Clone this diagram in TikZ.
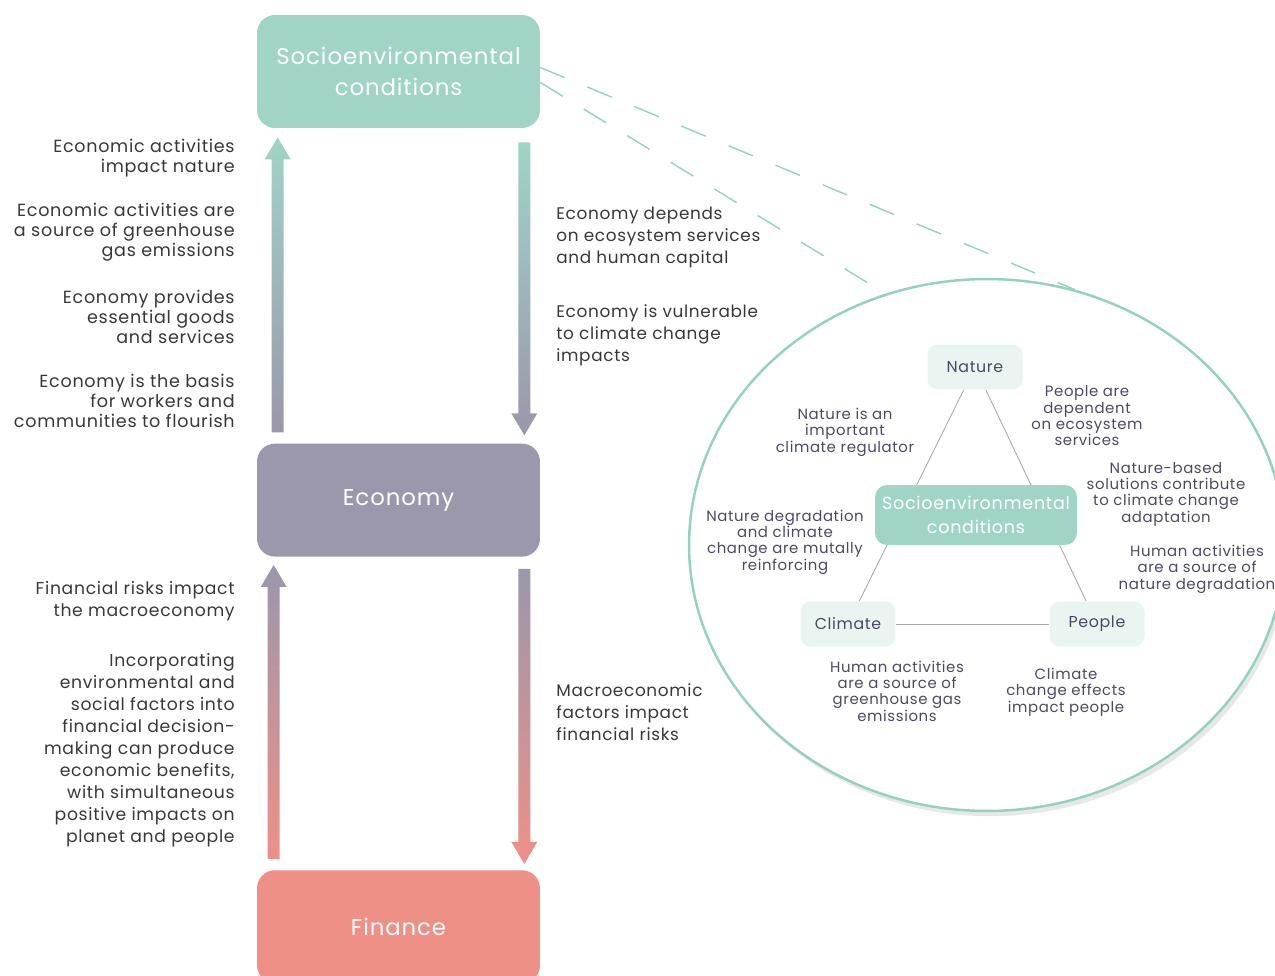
\documentclass[tikz,border=0pt]{standalone}
\usepackage{fontspec}
\setmainfont{Poppins}[LetterSpace=4]
\usepackage{tikz}
\usetikzlibrary{positioning, calc, shapes.geometric, shadows}
\definecolor{envgreen}{HTML}{9FD4C7}
\definecolor{ringgreen}{HTML}{93D2C2}
\definecolor{econgray}{HTML}{9B97AC}
\definecolor{finred}{HTML}{EE9086}
\definecolor{palegreen}{HTML}{EAF5F2}
\definecolor{notetext}{HTML}{383838}
\definecolor{innertext}{HTML}{4B4A63}
\definecolor{linkgray}{HTML}{A8A8A8}

% thick shaded arrow: base, tip, top colour, bottom colour, head side
\newcommand{\flowarrow}[5]{%
  \shade[top color=#3, bottom color=#4]
    ($(#1)+(-6,0)$) -- ($(#2)+(-6,#5*22)$) -- ($(#2)+(-13,#5*22)$) -- (#2)
    -- ($(#2)+(13,#5*22)$) -- ($(#2)+(6,#5*22)$) -- ($(#1)+(6,0)$) -- cycle;}

\begin{document}
\begin{tikzpicture}[x=0.02cm, y=-0.02cm,
    block/.style={rectangle,
      rounded corners=0.36cm,
      minimum width=5.66cm,
      minimum height=2.26cm,
      align=center,
      text=white,
      font=\fontsize{13}{17.5}\selectfont},
    leftnote/.style={anchor=east, align=right, inner sep=0pt,
      text=notetext, font=\fontsize{10}{11.3}\selectfont},
    rightnote/.style={anchor=west, align=left, inner sep=0pt,
      text=notetext, font=\fontsize{9.6}{12.5}\selectfont},
    smallbox/.style={rectangle, rounded corners=0.2cm, fill=palegreen,
      minimum width=1.9cm, minimum height=0.9cm,
      text=innertext, font=\fontsize{9}{11}\selectfont},
    innernote/.style={align=center, inner sep=0pt,
      text=innertext, font=\fontsize{8.5}{9.3}\selectfont},
    link/.style={draw=linkgray, line width=0.5pt}]
  \useasboundingbox (0,0) rectangle (1275,976);

  % MAIN CHAIN

  \node[block, fill=envgreen] (soc) at (398.5,71.5) {Socioenvironmental\\conditions};
  \node[block, fill=econgray, below=6.3cm of soc] (eco) {Economy};
  \node[block, fill=finred, below=6.26cm of eco] (fin) {Finance};

  \coordinate (upAbase) at ($(eco.north west)+(21,-11)$);
  \coordinate (upAtip) at ($(soc.south west)+(21,9)$);
  \coordinate (downAbase) at ($(soc.south east)+(-16,14)$);
  \coordinate (downAtip) at ($(eco.north east)+(-16,-8)$);
  \coordinate (upBbase) at ($(fin.north west)+(17,-11)$);
  \coordinate (upBtip) at ($(eco.south west)+(17,8)$);
  \coordinate (downBbase) at ($(eco.south east)+(-16,12)$);
  \coordinate (downBtip) at ($(fin.north east)+(-16,-6)$);

  \flowarrow{upAbase}{upAtip}{envgreen}{econgray}{1}
  \flowarrow{downAbase}{downAtip}{envgreen}{econgray}{-1}
  \flowarrow{upBbase}{upBtip}{econgray}{finred}{1}
  \flowarrow{downBbase}{downBtip}{econgray}{finred}{-1}

  % NOTES

  \node[leftnote] (n1) at (235,158) {Economic activities\\impact nature};
  \node[leftnote] (n2) at (235,232) {Economic activities are\\a source of greenhouse\\gas emissions};
  \node[leftnote] (n3) at (235,317) {Economy provides\\essential goods\\and services};
  \node[leftnote] (n4) at (235,401) {Economy is the basis\\for workers and\\communities to flourish};
  \node[leftnote, font=\fontsize{9.8}{12.5}\selectfont] (n5) at (235,601) {Financial risks impact\\the macroeconomy};
  \node[leftnote, font=\fontsize{9.8}{12.5}\selectfont] (n6) at (235,750) {Incorporating\\environmental and\\social factors into\\financial decision-\\making can produce\\economic benefits,\\with simultaneous\\positive impacts on\\planet and people};

  \node[rightnote] (r1) at (556,237) {Economy depends\\on ecosystem services\\and human capital};
  \node[rightnote] (r2) at (556,335) {Economy is vulnerable\\to climate change\\impacts};
  \node[rightnote] (r3) at (556,712) {Macroeconomic\\factors impact\\financial risks};

  % ZOOM RING

  \node[ellipse, draw=ringgreen, line width=1.4pt, fill=white,
    minimum width=11.92cm, minimum height=10.64cm, inner sep=0pt,
    drop shadow={shadow xshift=2pt, shadow yshift=-3pt, opacity=0.18}] (ring) at (987,545) {};

  \draw[ringgreen, line width=0.8pt, dash pattern=on 15pt off 14pt] ($(soc.east)+(0,-4)$) -- (ring.71.6);
  \draw[ringgreen, line width=0.8pt, dash pattern=on 15pt off 14pt] ($(soc.east)+(0,11)$) -- (ring.112.9);

  \node[smallbox] (nature) at (975,367) {Nature};
  \node[smallbox] (climate) at (848,624) {Climate};
  \node[smallbox] (people) at (1097,624) {People};

  \draw[link] (nature) -- (climate);
  \draw[link] (nature) -- (people);
  \draw[link] (climate) -- (people);

  \node[rectangle, rounded corners=0.24cm, fill=envgreen, minimum width=4.04cm,
    minimum height=1.2cm, align=center, text=white,
    font=\fontsize{10}{13.6}\selectfont] (core) at (976,515) {Socioenvironmental\\conditions};

  \node[innernote] (i1) at (845,432) {Nature is an\\important\\climate regulator};
  \node[innernote] (i2) at (1087,416) {People are\\dependent\\on ecosystem\\services};
  \node[innernote] (i3) at (1166,494) {Nature-based\\solutions contribute\\to climate change\\adaptation};
  \node[innernote] (i4) at (785,542) {Nature degradation\\and climate\\change are mutally\\reinforcing};
  \node[innernote] (i5) at (1197,569) {Human activities\\are a source of\\nature degradation};
  \node[innernote] (i6) at (897,691) {Human activities\\are a source of\\greenhouse gas\\emissions};
  \node[innernote] (i7) at (1066,692) {Climate\\change effects\\impact people};

\end{tikzpicture}
\end{document}
